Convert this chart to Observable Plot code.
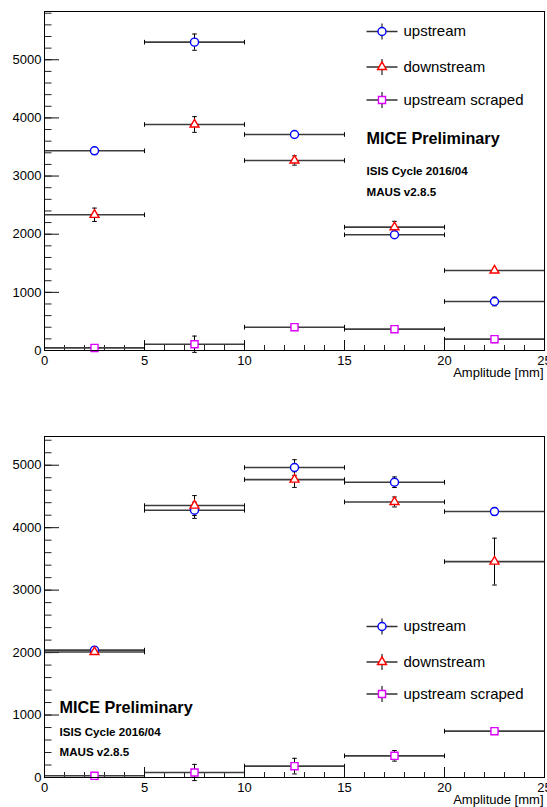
<!DOCTYPE html>
<html><head><meta charset="utf-8">
<script src="https://cdn.jsdelivr.net/npm/d3@7"></script>
<script src="https://cdn.jsdelivr.net/npm/@observablehq/plot@0.6"></script>
<style>
body{margin:0;background:#fff;}
#wrap{position:relative;width:547px;height:807px;overflow:hidden;background:#fff;}
.panel{position:absolute;left:0;}
</style>
</head><body>
<div id="wrap"><div class="panel" id="p1" style="top:0px"></div><div class="panel" id="p2" style="top:400px"></div></div>
<script>
// ---- data ----
const binLow = [0, 5, 10, 15, 20];
const binHigh = [5, 10, 15, 20, 25];
const binCenter = [2.5, 7.5, 12.5, 17.5, 22.5];
const seriesNames = ["upstream", "downstream", "upstream scraped"];
const seriesColors = ["#0000ff", "#ff0000", "#dd00ff"];
const seriesSymbols = ["circle", "triangle", "square"];

// top panel
const topUpstream = [3434, 5303, 3715, 1990, 843];
const topUpstreamErr = [45, 140, 30, 40, 75];
const topDownstream = [2334, 3887, 3268, 2121, 1376];
const topDownstreamErr = [115, 135, 80, 100, 25];
const topScraped = [45, 108, 401, 367, 195];
const topScrapedErr = [20, 140, 30, 50, 60];

// bottom panel
const botUpstream = [2040, 4279, 4963, 4728, 4258];
const botUpstreamErr = [30, 130, 125, 85, 60];
const botDownstream = [2010, 4354, 4770, 4412, 3457];
const botDownstreamErr = [30, 160, 125, 80, 375];
const botScraped = [27, 80, 182, 347, 742];
const botScrapedErr = [10, 130, 125, 85, 50];

const xMajorTicks = [0, 5, 10, 15, 20, 25];
const yMajorTicks = [0, 1000, 2000, 3000, 4000, 5000];
const annotations = ["MICE Preliminary", "ISIS Cycle 2016/04", "MAUS v2.8.5"];
const xLabel = "Amplitude [mm]";

// ---- drawing ----
const FONT = "'Liberation Sans', Arial, Helvetica, sans-serif";
const W = 547, ML = 44, MR = 3;

const hCap = {draw(ctx, size) { const r = Math.sqrt(size / Math.PI); ctx.moveTo(-r, 0); ctx.lineTo(r, 0); }};
const vCap = {draw(ctx, size) { const r = Math.sqrt(size / Math.PI); ctx.moveTo(0, -r); ctx.lineTo(0, r); }};
const legendCross = {draw(ctx) { ctx.moveTo(-15.5, 0); ctx.lineTo(15.5, 0); ctx.moveTo(0, -8); ctx.lineTo(0, 8); }};
const symbolR = {circle: 4, triangle: 3.3, square: 4};

function rowsFor(vals, errs) {
  return vals.map((v, i) => ({x: binCenter[i], xlo: binLow[i], xhi: binHigh[i], y: v, err: errs[i]}));
}

function makeChart(cfg) {
  const {series, ymax, height, marginTop, marginBottom, legendDx, legendDys, textDx, annotDx, annotDys} = cfg;
  const plotH = height - marginTop - marginBottom;
  const plotW = W - ML - MR;
  const minorY = d3.range(0, ymax, 200);
  const minorX = d3.range(0, 26, 1);
  const marks = [];
  marks.push(Plot.tickY(minorY, {y: d => d, insetRight: plotW - 7.5, stroke: "#222", strokeWidth: 1}));
  marks.push(Plot.tickY(yMajorTicks, {y: d => d, insetRight: plotW - 15, stroke: "#111", strokeWidth: 1}));
  marks.push(Plot.tickX(minorX, {x: d => d, insetTop: plotH - 5, stroke: "#222", strokeWidth: 1}));
  marks.push(Plot.tickX(xMajorTicks, {x: d => d, insetTop: plotH - 10, stroke: "#111", strokeWidth: 1}));
  marks.push(Plot.axisY({ticks: yMajorTicks, tickSize: 0, tickPadding: 3, label: null, tickFormat: d => String(d), fontSize: 13}));
  marks.push(Plot.axisX({ticks: xMajorTicks, tickSize: 0, tickPadding: 5, label: null, tickFormat: d => String(d), fontSize: 13}));
  marks.push(Plot.text([xLabel], {frameAnchor: "bottom-right", textAnchor: "end", lineAnchor: "bottom", dy: 26, dx: -1, fontSize: 13}));
  series.forEach((s, k) => {
    const rows = rowsFor(s.values, s.errors);
    marks.push(Plot.ruleY(rows, {y: "y", x1: "xlo", x2: "xhi", stroke: "#3c3c3c", strokeWidth: 1.6}));
    marks.push(Plot.dot(rows, {x: "xlo", y: "y", symbol: vCap, r: 2.3, stroke: "#000", strokeWidth: 1}));
    marks.push(Plot.dot(rows, {x: "xhi", y: "y", symbol: vCap, r: 2.3, stroke: "#000", strokeWidth: 1}));
    marks.push(Plot.ruleX(rows, {x: "x", y1: d => d.y - d.err, y2: d => d.y + d.err, stroke: "#000", strokeWidth: 1}));
    marks.push(Plot.dot(rows, {x: "x", y: d => d.y + d.err, symbol: hCap, r: 2.3, stroke: "#000", strokeWidth: 1}));
    marks.push(Plot.dot(rows, {x: "x", y: d => d.y - d.err, symbol: hCap, r: 2.3, stroke: "#000", strokeWidth: 1}));
  });
  series.forEach((s, k) => {
    const rows = rowsFor(s.values, s.errors);
    marks.push(Plot.dot(rows, {x: "x", y: "y", symbol: seriesSymbols[k], r: symbolR[seriesSymbols[k]], stroke: seriesColors[k], fill: "white", strokeWidth: 1.4}));
  });
  seriesNames.forEach((name, k) => {
    marks.push(Plot.dot([name], {frameAnchor: "top-left", dx: legendDx, dy: legendDys[k], symbol: legendCross, r: 5, stroke: "#333", strokeWidth: 1.3}));
    marks.push(Plot.dot([name], {frameAnchor: "top-left", dx: legendDx, dy: legendDys[k], symbol: seriesSymbols[k], r: symbolR[seriesSymbols[k]], stroke: seriesColors[k], fill: "white", strokeWidth: 1.4}));
    marks.push(Plot.text([name], {frameAnchor: "top-left", dx: textDx, dy: legendDys[k], text: d => d, textAnchor: "start", lineAnchor: "middle", fontSize: 15, fill: "#000"}));
  });
  annotations.forEach((t, k) => {
    marks.push(Plot.text([t], {frameAnchor: "top-left", dx: annotDx, dy: annotDys[k], text: d => d, textAnchor: "start", lineAnchor: "bottom", fontSize: k === 0 ? 16.2 : 11.6, fontWeight: "bold", fill: "#000"}));
  });
  marks.push(Plot.frame({stroke: "#000", strokeWidth: 1}));
  return Plot.plot({
    width: W, height, marginLeft: ML, marginRight: MR, marginTop, marginBottom,
    style: {fontFamily: FONT, fontSize: "13px", background: "white", color: "#000", overflow: "visible"},
    x: {domain: [0, 25]},
    y: {domain: [0, ymax]},
    marks
  });
}

const chartTop = makeChart({
  series: [
    {values: topUpstream, errors: topUpstreamErr},
    {values: topDownstream, errors: topDownstreamErr},
    {values: topScraped, errors: topScrapedErr}
  ],
  ymax: 5830, height: 400, marginTop: 11, marginBottom: 50,
  legendDx: 337.5, legendDys: [20, 55.5, 88.5], textDx: 359,
  annotDx: 322, annotDys: [132, 163, 184]
});
const chartBottom = makeChart({
  series: [
    {values: botUpstream, errors: botUpstreamErr},
    {values: botDownstream, errors: botDownstreamErr},
    {values: botScraped, errors: botScrapedErr}
  ],
  ymax: 5460, height: 407, marginTop: 36, marginBottom: 30,
  legendDx: 337.5, legendDys: [190, 225.5, 257.5], textDx: 359,
  annotDx: 15, annotDys: [276, 299, 319]
});
document.getElementById("p1").appendChild(chartTop);
document.getElementById("p2").appendChild(chartBottom);
</script>
</body></html>
